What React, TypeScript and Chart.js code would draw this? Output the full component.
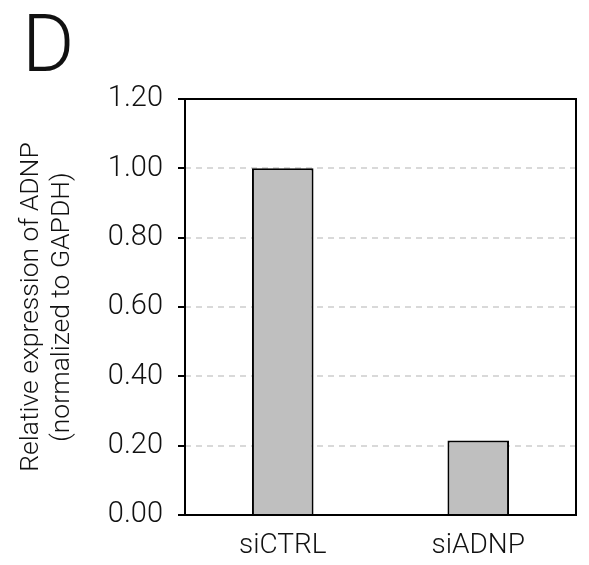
import React, { useEffect, useRef } from "react";
import { Chart, registerables } from "chart.js";

Chart.register(...registerables);

const categories = ["siCTRL", "siADNP"];
const values = [1.0, 0.215];
const yTicks = [0, 0.2, 0.4, 0.6, 0.8, 1.0, 1.2];
const yTitle = ["Relative expression of ADNP", "(normalized to GAPDH)"];
const panelLabel = "D";

const FONT = "Roboto";

const frame = {
  id: "frame",
  afterDraw(chart: any) {
    const { ctx, chartArea } = chart;
    ctx.save();
    ctx.strokeStyle = "#000";
    ctx.lineWidth = 2;
    ctx.setLineDash([]);
    ctx.beginPath();
    ctx.moveTo(chartArea.left, chartArea.bottom);
    ctx.lineTo(chartArea.left, chartArea.top);
    ctx.lineTo(chartArea.right, chartArea.top);
    ctx.lineTo(chartArea.right, chartArea.bottom);
    ctx.lineTo(chartArea.left - 7, chartArea.bottom);
    ctx.stroke();
    ctx.restore();
  },
};

export default function App() {
  const ref = useRef<HTMLCanvasElement>(null);
  useEffect(() => {
    const chart = new Chart(ref.current!, {
      type: "bar",
      data: {
        labels: categories,
        datasets: [
          {
            data: values,
            backgroundColor: "#bfbfbf",
            borderColor: "#000",
            borderWidth: 2,
            barPercentage: 0.315,
            categoryPercentage: 1,
          },
        ],
      },
      options: {
        responsive: false,
        animation: false,
        layout: { padding: { left: 0, top: 99, right: 13, bottom: 0 } },
        plugins: { legend: { display: false }, tooltip: { enabled: false }, title: { display: false } },
        scales: {
          x: {
            grid: { display: false },
            border: { display: false },
            ticks: {
              color: "#111",
              padding: 6,
              font: { family: FONT, size: 28, weight: "300" },
            },
            afterFit: (s: any) => {
              s.height = 50;
            },
          },
          y: {
            min: 0,
            max: 1.2,
            afterBuildTicks: (s: any) => {
              s.ticks = yTicks.map((v) => ({ value: v }));
            },
            grid: {
              color: (c: any) =>
                c.tick && (c.tick.value === 0 || Math.abs(c.tick.value - 1.2) < 1e-9)
                  ? "rgba(0,0,0,0)"
                  : "#d9d9d9",
              lineWidth: 2,
              drawTicks: true,
              tickLength: 7,
              tickColor: "#000",
              tickWidth: 2,
              tickBorderDash: [],
            },
            border: { display: false, dash: [6, 5] },
            ticks: {
              color: "#111",
              padding: 15,
              font: { family: FONT, size: 29, weight: "300" },
              callback: (v: any) => Number(v).toFixed(2),
            },
            title: {
              display: true,
              text: yTitle,
              color: "#111",
              padding: { top: 15, bottom: 0 },
              font: { family: FONT, size: 26.5, weight: "300", lineHeight: 1.2 },
            },
            afterFit: (s: any) => {
              s.width = 185;
            },
          },
        },
      },
      plugins: [frame],
    });
    return () => chart.destroy();
  }, []);

  return (
    <div style={{ position: "fixed", left: 0, top: 0, width: 589, height: 565, background: "#fff" }}>
      <canvas ref={ref} width={589} height={565} style={{ display: "block" }} />
      <div
        style={{
          position: "absolute",
          left: 22,
          top: 4,
          fontFamily: FONT,
          fontWeight: 300,
          fontSize: 80,
          lineHeight: "80px",
          color: "#111",
        }}
      >
        {panelLabel}
      </div>
    </div>
  );
}
